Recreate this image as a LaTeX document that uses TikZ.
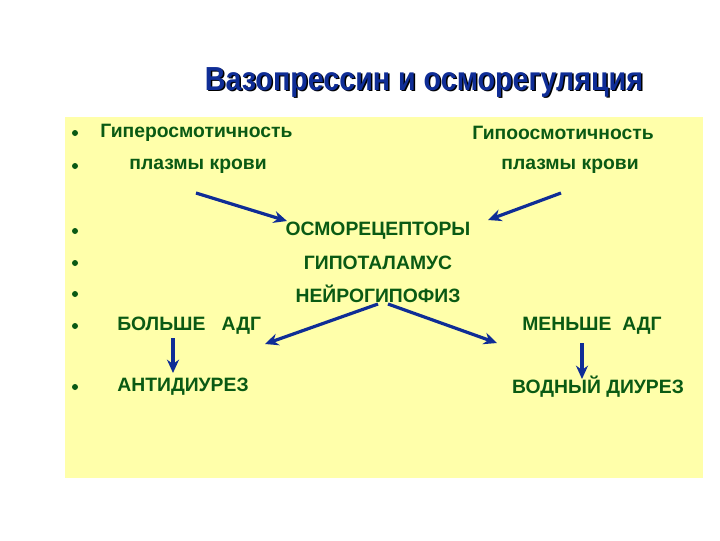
\documentclass[tikz,border=0pt]{standalone}
\usepackage{fontspec}
\usetikzlibrary{arrows.meta}
\setmainfont{Liberation Sans}
\newfontfamily\cond[FakeStretch=0.86]{Liberation Sans}
\definecolor{tg}{RGB}{10,90,20}
\definecolor{tb}{RGB}{15,45,150}
\definecolor{ybg}{RGB}{255,255,170}
\begin{document}
\begin{tikzpicture}[x=0.75pt,y=-0.75pt,
  t/.style={text=tg,font=\bfseries\fontsize{14.5}{16}\selectfont,inner sep=0pt},
  bul/.style={fill=tg,circle,inner sep=0pt,minimum size=4.5pt},
  arr/.style={draw=tb,line width=2.4pt,-{Stealth[length=10pt,width=9pt]}}]
\useasboundingbox (0,0) rectangle (720,540);
\fill[ybg] (65,117) rectangle (703,478);
\node[text=black,font=\cond\bfseries\fontsize{25}{28}\selectfont,inner sep=0pt] at (425.5,83) {Вазопрессин и осморегуляция};
\node (title) [text=tb,font=\cond\bfseries\fontsize{25}{28}\selectfont,inner sep=0pt] at (424,82) {Вазопрессин и осморегуляция};
\foreach \y [count=\i] in {133,166,231,263,294,326,387} \node[bul] (b\i) at (75,\y) {};
\node[t,anchor=west] (hyper) at (100,133) {Гиперосмотичность};
\node[t] (pl1) at (198,166) {плазмы крови};
\node[t] (hypo) at (563,133) {Гипоосмотичность};
\node[t] (pl2) at (570,166) {плазмы крови};
\node[t] (c1) at (378,231) {ОСМОРЕЦЕПТОРЫ};
\node[t] (c2) at (378,263) {ГИПОТАЛАМУС};
\node[t] (c3) at (378,294) {НЕЙРОГИПОФИЗ};
\node[t,anchor=west] (more) at (117,326) {БОЛЬШЕ\ \ \ АДГ};
\node[t] (less) at (592,326) {МЕНЬШЕ\ \ АДГ};
\node[t] (anti) at (183,387) {АНТИДИУРЕЗ};
\node[t] (water) at (598,387) {ВОДНЫЙ ДИУРЕЗ};
\coordinate (a1s) at (196,193); \coordinate (a1e) at (287,221);
\coordinate (a2s) at (561,193); \coordinate (a2e) at (488,220);
\coordinate (a3s) at (378,304); \coordinate (a3e) at (265,344);
\coordinate (a4s) at (388,304); \coordinate (a4e) at (497,343);
\coordinate (a5s) at (173,338); \coordinate (a5e) at (173,373);
\coordinate (a6s) at (582,343); \coordinate (a6e) at (582,379);
\foreach \i in {1,...,6} \draw[arr] (a\i s) -- (a\i e);
\end{tikzpicture}
\end{document}
